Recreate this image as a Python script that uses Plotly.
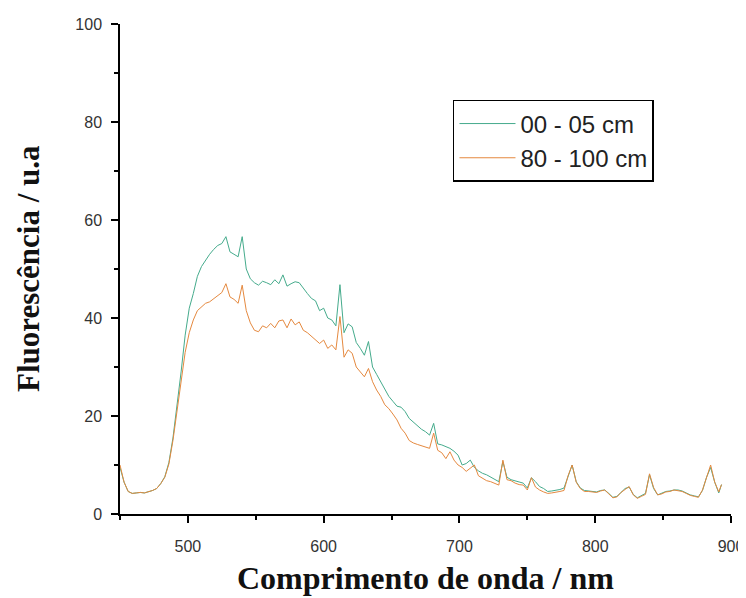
import plotly.graph_objects as go

wavelength = list(range(450, 892, 3)) + [893]

fluor_00_05 = [
    9.5, 6.5, 4.6, 4.2, 4.3, 4.4, 4.3, 4.5, 4.8, 5.2,
    6.2, 7.6, 10.5, 15.5, 22, 29, 36.5, 42, 45, 48.5,
    50.5, 51.8, 53, 54, 54.8, 55.2, 56.6, 53.5, 53, 52.5,
    56.6, 50, 48, 47.2, 46.7, 47.5, 47.2, 46.8, 47.8, 47,
    48.8, 46.5, 47, 47.4, 47.2, 46, 45, 44, 43.5, 41.5,
    42, 40, 39.6, 38.4, 46.8, 37, 38.8, 38.2, 35, 33.8,
    32.4, 35.2, 30, 28.5, 27, 25.5, 24, 23, 22, 21.8,
    20.9, 19.5, 18.8, 18, 17.3, 16.8, 16.1, 18.5, 14.3, 14.1,
    13.8, 13.4, 12.8, 12, 10, 10.3, 11, 9.5, 8.8, 8.3,
    8, 7.5, 7, 6.6, 10.7, 7.5, 7, 6.8, 6.5, 6.3,
    5.3, 7.4, 6.6, 5.6, 5.2, 4.6, 4.7, 4.8, 5, 5.3,
    7.5, 10, 6.6, 5.3, 4.8, 4.7, 4.6, 4.5, 4.8, 4.9,
    4.2, 3.4, 3.6, 4.5, 5.2, 5.5, 4, 3.3, 3.7, 4.2,
    8, 5.2, 3.9, 4.2, 4.6, 4.7, 4.9, 4.9, 4.7, 4.3,
    3.9, 3.7, 3.5, 4.8, 7.5, 9.5, 6.5, 4.3, 6,
]

fluor_80_100 = [
    10, 6.5, 4.6, 4.2, 4.3, 4.4, 4.3, 4.5, 4.8, 5.2,
    6.2, 7.5, 10.2, 15, 21, 27.5, 33, 37, 39.6, 41.5,
    42.3, 43, 43.3, 44, 44.7, 45.2, 47, 44.3, 43.8, 43,
    46.7, 41.5, 39, 37.5, 37.2, 38.4, 38, 38.9, 38, 39.4,
    39.6, 38, 39.8, 38.6, 39.2, 37.5, 37, 36.2, 35.5, 34.8,
    35.5, 33.8, 34.5, 33.5, 40.3, 32, 33.5, 32.8, 30, 29,
    28, 29.7, 27, 25.3, 24, 22.3, 21.5, 20.4, 19.2, 17.5,
    16.5, 15, 14.5, 14.2, 13.9, 13.7, 13.4, 16.5, 13, 12.5,
    11.3, 12.7, 11, 10, 9.5, 8.7, 9.3, 10, 7.8, 7.3,
    6.8, 6.6, 6.2, 5.9, 11, 7, 6.8, 6.3, 6, 5.9,
    4.9, 7.4, 5.5, 4.9, 4.5, 4.2, 4.3, 4.4, 4.6, 4.8,
    7.8, 10, 6.5, 5.2, 4.6, 4.6, 4.5, 4.4, 4.7, 4.9,
    4.1, 3.3, 3.5, 4.4, 5, 5.6, 3.9, 3.2, 3.6, 4,
    8.2, 5.4, 3.9, 4.1, 4.5, 4.6, 4.9, 4.8, 4.6, 4.2,
    3.8, 3.6, 3.4, 4.9, 7.5, 10, 6.5, 4.5, 6,
]

series_names = ["00 - 05 cm", "80 - 100 cm"]
x_ticks = [500, 600, 700, 800, 900]
y_ticks = [0, 20, 40, 60, 80, 100]
x_title = "Comprimento de onda / nm"
y_title = "Fluorescência / u.a"

fig = go.Figure()
fig.add_trace(go.Scatter(x=wavelength, y=fluor_00_05, mode="lines", name=series_names[0],
                         line=dict(color="#45ab8c", width=1)))
fig.add_trace(go.Scatter(x=wavelength, y=fluor_80_100, mode="lines", name=series_names[1],
                         line=dict(color="#e5893f", width=1)))

tickfont = dict(family="Liberation Sans, Arial, sans-serif", size=16, color="#333")
serif = "Liberation Serif, Times New Roman, serif"

fig.update_layout(
    width=746, height=590,
    margin=dict(l=112, r=23, t=16, b=84),
    paper_bgcolor="white", plot_bgcolor="white",
    showlegend=True,
    legend=dict(x=0.545, y=0.845, xanchor="left", yanchor="top",
                bordercolor="black", borderwidth=1.5, bgcolor="white",
                font=dict(family="Liberation Sans, Arial, sans-serif", size=24, color="#222"),
                tracegroupgap=0, itemwidth=56),
    annotations=[
        dict(text="<b>" + x_title + "</b>", xref="paper", yref="paper", x=0.5, y=0,
             xanchor="center", yanchor="middle", yshift=-64, showarrow=False,
             font=dict(family=serif, size=32, color="#111")),
        dict(text="<b>" + y_title + "</b>", xref="paper", yref="paper", x=0, y=0.5,
             xanchor="center", yanchor="middle", xshift=-92, textangle=-90, showarrow=False,
             font=dict(family=serif, size=31, color="#111")),
    ],
)
fig.update_xaxes(
    range=[450, 900], tickvals=x_ticks, showgrid=False, zeroline=False, automargin=False,
    showline=True, linecolor="black", linewidth=1.5,
    ticks="outside", ticklen=7, tickcolor="black", tickwidth=1.5,
    minor=dict(dtick=50, tick0=450, ticks="outside", ticklen=4, tickcolor="black", showgrid=False),
    tickfont=tickfont, ticklabelstandoff=10,
)
fig.update_yaxes(
    range=[0, 100], tickvals=y_ticks, showgrid=False, zeroline=False, automargin=False,
    showline=True, linecolor="black", linewidth=1.5,
    ticks="outside", ticklen=7, tickcolor="black", tickwidth=1.5,
    minor=dict(dtick=10, tick0=0, ticks="outside", ticklen=4, tickcolor="black", showgrid=False),
    tickfont=tickfont, ticklabelstandoff=6,
)

fig.write_html("out.html")
